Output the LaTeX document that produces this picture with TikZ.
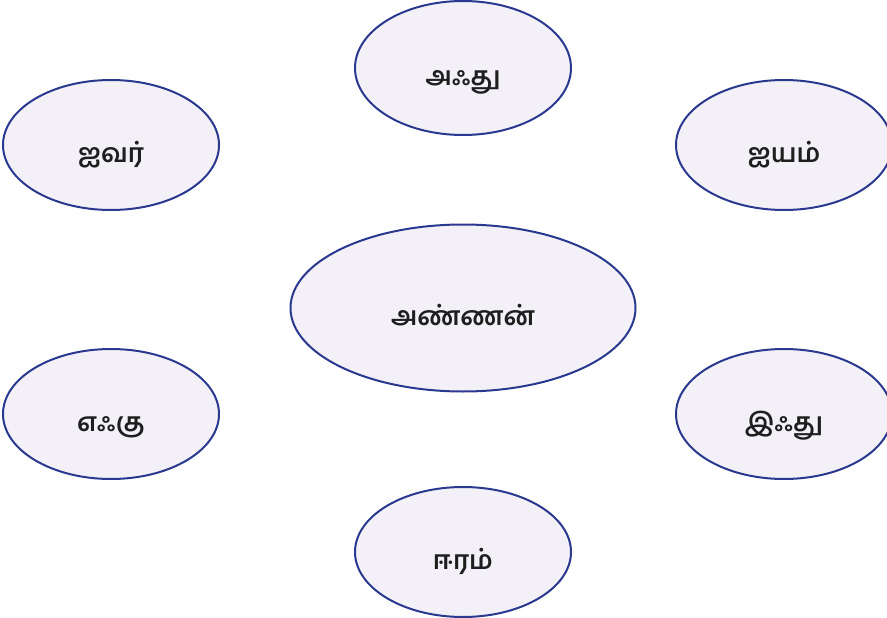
\documentclass[tikz,border=0pt]{standalone}
\usepackage{fontspec}
\newfontfamily\tamilfont[Script=Tamil]{Hind Madurai}
\definecolor{ellfill}{HTML}{F3F1F7}
\definecolor{elldraw}{HTML}{2A3990}
\definecolor{txt}{HTML}{1E1E1E}
\usetikzlibrary{shapes.geometric}
\tikzset{
  word/.style={ellipse, draw=elldraw, fill=ellfill, line width=2pt, inner sep=0pt,
    text height=34pt, text depth=0pt,
    font=\tamilfont\bfseries\fontsize{26}{31}\selectfont, text=txt},
}
\begin{document}
\begin{tikzpicture}[x=1pt,y=-1pt]
\useasboundingbox (0,0) rectangle (887,618);
\node[word, minimum width=216, minimum height=134] (top) at (463,68) {அஃது};
\node[word, minimum width=345, minimum height=167] (centre) at (463,308) {அண்ணன்};
\node[word, minimum width=216, minimum height=130] (lt) at (111,145) {ஐவர்};
\node[word, minimum width=216, minimum height=130] (rt) at (784,145) {ஐயம்};
\node[word, minimum width=216, minimum height=130] (lb) at (111,414) {எஃகு};
\node[word, minimum width=216, minimum height=130] (rb) at (784,414) {இஃது};
\node[word, minimum width=216, minimum height=130] (bot) at (463,552) {ஈரம்};
\end{tikzpicture}
\end{document}
